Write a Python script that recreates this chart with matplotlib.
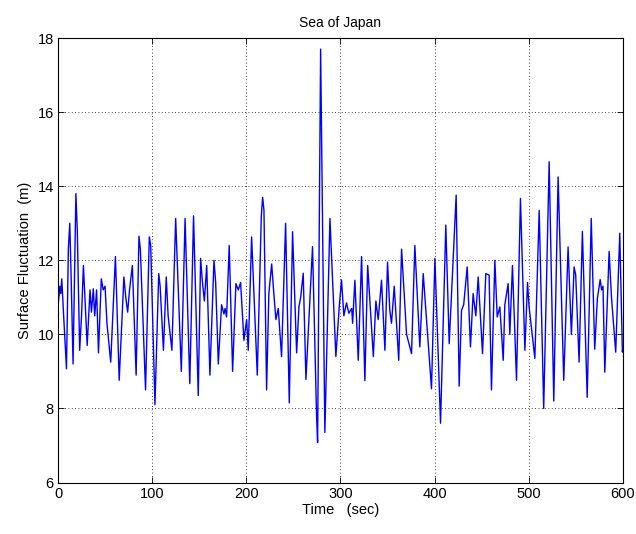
# -*- coding: utf-8 -*-
"""Sea of Japan surface fluctuation record (MATLAB-style look)"""

import matplotlib
matplotlib.use("Agg")
import matplotlib.pyplot as plt

plt.rcParams['font.family'] = ['Liberation Sans', 'DejaVu Sans']
plt.rcParams['font.size'] = 10
plt.rcParams['xtick.direction'] = 'in'
plt.rcParams['ytick.direction'] = 'in'

# turning points of the record
time_sec = [
    0, 2, 3, 4, 6, 9, 11, 12.5, 14, 16, 19, 20.5, 23, 25, 27, 29, 31, 34, 35.5,
    37.5, 39, 41, 43, 46, 48, 50, 52, 56, 61, 62, 65, 70, 72, 74, 76, 79, 83,
    86, 87.5, 93, 97, 98.5, 103, 107, 108.5, 112, 115, 117, 121, 125, 131, 135,
    140, 144, 149, 151.5, 153.3, 155.5, 158, 161.4, 165.7, 167.5, 170.3, 173.8,
    176.3, 177.5, 179.1, 181.9, 185.5, 189, 191.5, 194, 197.5, 200.4, 202.1,
    205.7, 211.7, 216, 217.4, 218.8, 221.6, 224, 227, 229, 231.5, 234, 237.5,
    241.8, 245.7, 249.2, 253.5, 256, 257.8, 260.5, 263.4, 270.4, 274.7, 275.8,
    279, 283.5, 288.9, 295.2, 298.8, 301.2, 303.7, 306.5, 309, 312, 313, 315.4,
    319, 322.5, 326, 329, 335, 337.7, 340.2, 343.7, 347.3, 350.1, 352.5, 354.3,
    357.2, 362, 365, 370.3, 375.6, 379.1, 384.4, 388, 391.5, 396.8, 400.4,
    406.4, 412, 415.6, 423, 426.2, 428.7, 431, 434.7, 438.2, 441, 443.9, 446.4,
    451, 454.5, 458, 460.5, 464.1, 466.6, 469.4, 473, 474.7, 478.2, 480, 482.8,
    487.1, 491.3, 496, 498.8, 500.5, 506.6, 511.2, 516, 521.8, 526.7, 531.3,
    537.3, 541.9, 545.4, 548.3, 550, 553.6, 557.1, 562.2, 566.5, 570.2, 573,
    576, 577.5, 579, 580.9, 585.5, 588, 592.5, 596.8, 599.6, 600,
]
surface_m = [
    10.75, 11.3, 11.1, 11.5, 10.5, 9.07, 12.3, 13.0, 11.5, 9.2, 13.8, 12.8,
    9.57, 10.5, 11.86, 10.8, 9.7, 11.2, 10.6, 11.23, 10.5, 11.2, 9.5, 11.5,
    11.2, 11.3, 10.3, 9.25, 12.1, 11.3, 8.76, 11.55, 11.0, 10.6, 11.2, 11.86,
    8.9, 12.65, 12.3, 8.5, 12.63, 12.4, 8.1, 11.64, 11.3, 9.57, 11.55, 10.5,
    9.57, 13.13, 9.0, 13.13, 8.67, 13.2, 8.35, 12.05, 11.45, 10.9, 11.86, 8.9,
    12.0, 11.4, 9.2, 10.8, 10.55, 10.7, 10.47, 12.4, 9.0, 11.37, 11.2, 11.4,
    9.84, 10.4, 9.57, 12.63, 8.9, 13.2, 13.7, 13.35, 8.5, 11.1, 11.9, 11.2,
    10.4, 10.7, 9.4, 13.0, 8.15, 12.77, 9.5, 10.75, 11.0, 11.65, 8.78, 12.37,
    7.8, 7.08, 17.7, 7.35, 13.13, 9.4, 10.75, 11.47, 10.5, 10.85, 10.57, 10.7,
    10.3, 11.46, 9.3, 12.1, 8.75, 11.86, 9.4, 10.9, 10.4, 11.46, 9.57, 11.95,
    10.65, 10.3, 11.3, 9.3, 12.3, 10.0, 9.48, 12.4, 9.66, 11.64, 10.4, 8.53,
    12.05, 7.6, 12.95, 9.75, 13.76, 8.6, 10.65, 10.8, 11.82, 9.66, 11.1, 10.5,
    11.55, 9.48, 11.64, 11.6, 8.5, 12.0, 10.47, 10.74, 9.3, 10.8, 11.37, 10.0,
    11.86, 8.76, 13.67, 9.57, 11.4, 10.74, 9.35, 13.35, 8.0, 14.66, 8.2, 14.25,
    8.76, 12.36, 10.0, 11.82, 11.6, 9.25, 12.78, 8.3, 13.13, 9.6, 10.96, 11.48,
    11.2, 11.3, 8.98, 12.24, 11.0, 9.52, 12.73, 9.52, 9.6,
]

x_ticks = [0, 100, 200, 300, 400, 500, 600]
y_ticks = [6, 8, 10, 12, 14, 16, 18]

fig = plt.figure(figsize=(6.36, 5.34), dpi=100)
ax = fig.add_axes([0.0912, 0.0964, 0.888, 0.8324])

ax.plot(time_sec, surface_m, color='#0000ff', linewidth=1.0)

ax.set_xlim(0, 600)
ax.set_ylim(6, 18)
ax.set_xticks(x_ticks)
ax.set_yticks(y_ticks)
ax.tick_params(top=True, right=True, length=4, width=0.6, pad=3, labelsize=10.5)
ax.grid(True, color='black', linestyle=(0, (1, 3)), linewidth=0.6)
for sp in ax.spines.values():
    sp.set_linewidth(0.8)

ax.set_title("Sea of Japan", fontsize=10, pad=8)
ax.set_xlabel("Time   (sec)", fontsize=10.5, labelpad=2)
ax.set_ylabel("Surface Fluctuation  (m)", fontsize=10.5, labelpad=4)

fig.savefig("out.png", dpi=100)
plt.close(fig)
